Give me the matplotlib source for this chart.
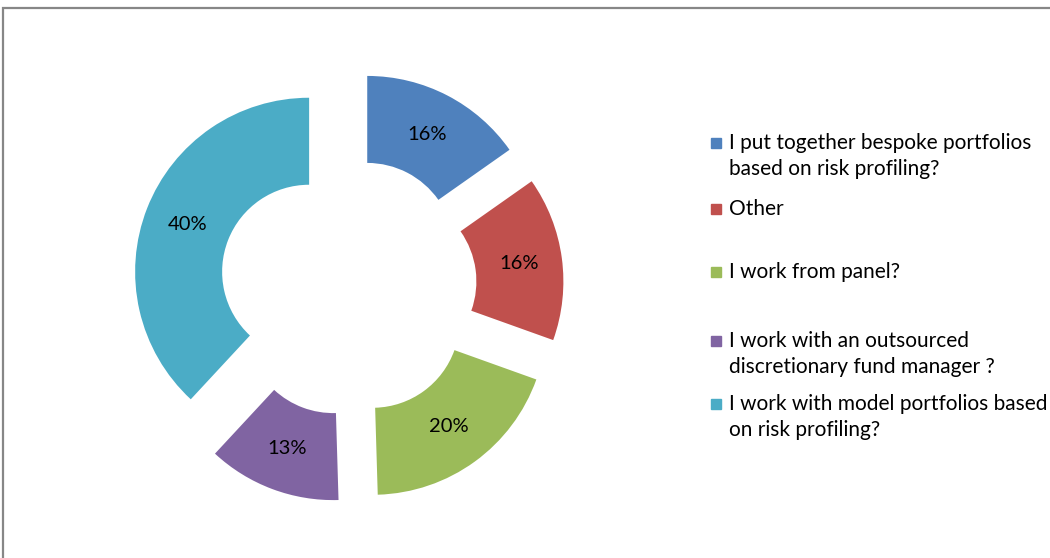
import matplotlib.pyplot as plt
from matplotlib.patches import Rectangle

# Survey answers and their shares (as labelled)
categories = [
    "I put together bespoke portfolios\nbased on risk profiling?",
    "Other",
    "I work from panel?",
    "I work with an outsourced\ndiscretionary fund manager ?",
    "I work with model portfolios based\non risk profiling?",
]
shares = [16, 16, 20, 13, 40]
colors = ["#4F81BD", "#C0504D", "#9BBB59", "#8064A2", "#4BACC6"]

plt.rcParams["font.family"] = ["Lato", "DejaVu Sans"]

W, H = 1050, 558
fig = plt.figure(figsize=(W / 100, H / 100), dpi=100)

# outer frame of the chart area (runs off the right and bottom edges)
fig.patches.append(Rectangle((3 / W, -0.05), 1.2, (H - 8) / H + 0.05,
                             transform=fig.transFigure, fill=False,
                             edgecolor="#878787", linewidth=1.6))

# doughnut: centre at (348, 287) px, outer radius 174 px
cx, cy, R = 348, 287, 174
span = 1.5
ax = fig.add_axes([(cx - span * R) / W, (H - cy - span * R) / H,
                   2 * span * R / W, 2 * span * R / H])
total = sum(shares)
wedges, _, pcts = ax.pie(
    shares, colors=colors, startangle=90, counterclock=False,
    explode=[0.24] * len(shares), radius=1.0,
    wedgeprops=dict(width=0.5, edgecolor="none"),
    autopct=lambda p: f"{p * total / 100:.0f}%", pctdistance=0.75,
    textprops=dict(fontsize=14.5, color="black"),
)
ax.set_xlim(-span, span)
ax.set_ylim(-span, span)
ax.set_aspect("equal")
ax.axis("off")

# legend drawn entry by entry, one text per line
legend_y = [149, 215, 278, 347, 410]
line_step = 26
for label, col, yb in zip(categories, colors, legend_y):
    fig.patches.append(Rectangle((711 / W, (H - yb + 1) / H), 10 / W, 10 / H,
                                 transform=fig.transFigure, color=col))
    for i, line in enumerate(label.split("\n")):
        fig.text(729 / W, (H - yb - i * line_step) / H, line, fontsize=15,
                 va="baseline", ha="left")

fig.savefig("out.png", dpi=100)
